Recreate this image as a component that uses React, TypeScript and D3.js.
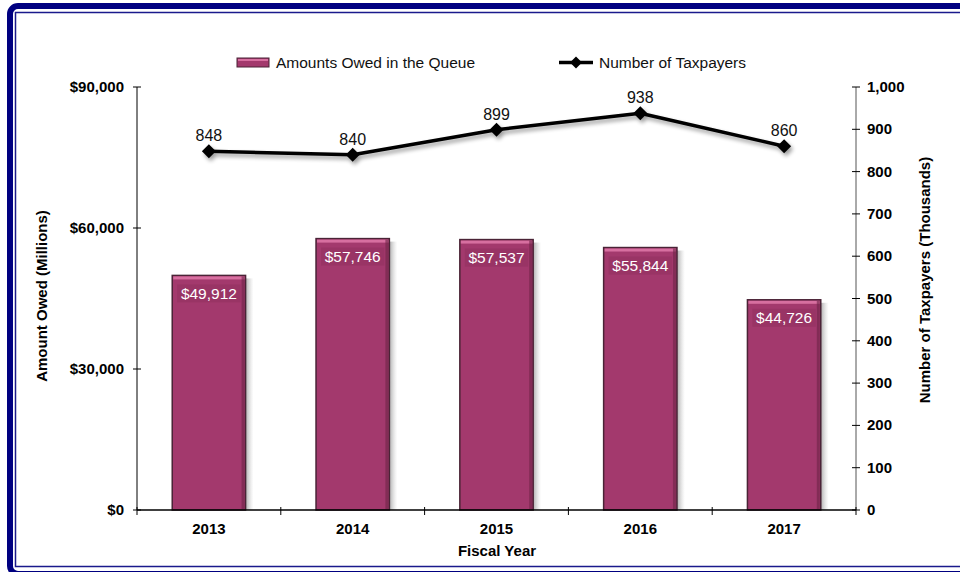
import React from "react";
import * as d3 from "d3";

const years = ["2013", "2014", "2015", "2016", "2017"];
const amounts = [49912, 57746, 57537, 55844, 44726];
const taxpayers = [848, 840, 899, 938, 860];
const leftTicks = [0, 30000, 60000, 90000];
const rightTicks = [0, 100, 200, 300, 400, 500, 600, 700, 800, 900, 1000];

const W = 960, H = 572;
const M = { left: 137, right: 856, top: 87, bottom: 510 };
const FONT = "'Liberation Sans', Arial, sans-serif";
const BAR = "#A3396D";

export default function App() {
  const x = d3.scaleBand<string>().domain(years).range([M.left, M.right]).paddingInner(0.49).paddingOuter(0.245);
  const yL = d3.scaleLinear().domain([0, 90000]).range([M.bottom, M.top]);
  const yR = d3.scaleLinear().domain([0, 1000]).range([M.bottom, M.top]);
  const step = (M.right - M.left) / years.length;
  const cx = (i: number) => M.left + step * (i + 0.5);
  const bw = x.bandwidth();
  const line = d3.line<number>().x((_, i) => cx(i)).y((d) => yR(d));
  const fmtL = (v: number) => "$" + d3.format(",")(v);
  const diamond = (px: number, py: number, r: number) => `M${px},${py - r}L${px + r},${py}L${px},${py + r}L${px - r},${py}Z`;

  return (
    <svg width={W} height={H} style={{ position: "absolute", left: 0, top: 0, fontFamily: FONT }}>
      <defs>
        <linearGradient id="shadowG" x1="0" x2="1" y1="0" y2="0">
          <stop offset="0" stopColor="#777" stopOpacity="0.6" />
          <stop offset="1" stopColor="#bbb" stopOpacity="0" />
        </linearGradient>
        <filter id="lineShadow" x="-10%" y="-50%" width="120%" height="200%">
          <feGaussianBlur in="SourceAlpha" stdDeviation="2" />
          <feOffset dx="2" dy="3" result="b" />
          <feComponentTransfer><feFuncA type="linear" slope="0.4" /></feComponentTransfer>
          <feMerge><feMergeNode /><feMergeNode in="SourceGraphic" /></feMerge>
        </filter>
      </defs>
      <rect x={0} y={0} width={W} height={H} fill="#fff" />
      {/* borders */}
      <rect x={10} y={6} width={W + 20} height={H - 4} rx={8} fill="none" stroke="#000080" strokeWidth={6} />
      <rect x={15.5} y={12.5} width={W} height={554} fill="none" stroke="#1a1a8c" strokeWidth={1.5} />

      {/* bars */}
      {amounts.map((v, i) => {
        const bx = cx(i) - bw / 2;
        const by = yL(v);
        const h = M.bottom - by;
        return (
          <g key={years[i]}>
            <rect x={bx + bw} y={by + 3} width={8} height={h - 3} fill="url(#shadowG)" />
            <rect x={bx} y={by} width={bw} height={h} fill={BAR} stroke="#4a2336" strokeWidth={1.5} />
            <rect x={bx + 1} y={by + 1} width={bw - 2} height={3} fill="#d76fa0" />
            <rect x={bx + bw - 4} y={by + 1} width={3} height={h - 1} fill="#6e2448" opacity={0.6} />
            <rect x={bx + 5} y={by + 9} width={bw - 10} height={18} fill="#8f2f5e" opacity={0.5} />
            <text x={cx(i)} y={by + 23.5} textAnchor="middle" fontSize={15.5} fill="#fff">{fmtL(v)}</text>
          </g>
        );
      })}

      {/* axes */}
      <g stroke="#000" strokeWidth={1}>
        <line x1={M.left} x2={M.left} y1={M.top} y2={M.bottom} />
        <line x1={M.right} x2={M.right} y1={M.top} y2={M.bottom} stroke="#555" />
        <line x1={M.left} x2={M.right} y1={M.bottom} y2={M.bottom} strokeWidth={1.5} />
        {leftTicks.map((t) => (
          <line key={t} x1={M.left - 4} x2={M.left + 4} y1={yL(t)} y2={yL(t)} />
        ))}
        {rightTicks.map((t) => (
          <line key={t} x1={M.right - 4} x2={M.right + 4} y1={yR(t)} y2={yR(t)} />
        ))}
        {d3.range(years.length + 1).map((i) => (
          <line key={i} x1={M.left + step * i} x2={M.left + step * i} y1={M.bottom - 3} y2={M.bottom + 5} />
        ))}
      </g>
      {leftTicks.map((t) => (
        <text key={t} x={M.left - 13} y={yL(t) + 5} textAnchor="end" fontSize={15} fontWeight="bold">{fmtL(t)}</text>
      ))}
      {rightTicks.map((t) => (
        <text key={t} x={M.right + 11} y={yR(t) + 5} textAnchor="start" fontSize={15} fontWeight="bold">{d3.format(",")(t)}</text>
      ))}
      {years.map((yv, i) => (
        <text key={yv} x={cx(i)} y={534} textAnchor="middle" fontSize={15} fontWeight="bold">{yv}</text>
      ))}
      <text x={497} y={556} textAnchor="middle" fontSize={15} fontWeight="bold">Fiscal Year</text>
      <text transform={`translate(47,${296}) rotate(-90)`} textAnchor="middle" fontSize={15} fontWeight="bold">Amount Owed (Millions)</text>
      <text transform={`translate(930,${280}) rotate(-90)`} textAnchor="middle" fontSize={15} fontWeight="bold">Number of Taxpayers (Thousands)</text>

      {/* line */}
      <g filter="url(#lineShadow)">
        <path d={line(taxpayers) || ""} fill="none" stroke="#000" strokeWidth={3.5} strokeLinejoin="round" />
        {taxpayers.map((v, i) => (
          <path key={i} d={diamond(cx(i), yR(v), 7)} fill="#000" />
        ))}
      </g>
      {taxpayers.map((v, i) => (
        <text key={i} x={cx(i)} y={yR(v) - 10} textAnchor="middle" fontSize={16} fill="#111">{v}</text>
      ))}

      {/* legend */}
      <rect x={237} y={58} width={32} height={9} fill={BAR} stroke="#4a2336" strokeWidth={1} />
      <rect x={238} y={59} width={30} height={2} fill="#d76fa0" />
      <text x={276} y={67.5} fontSize={15.5} fill="#111">Amounts Owed in the Queue</text>
      <line x1={559} x2={593} y1={62.5} y2={62.5} stroke="#000" strokeWidth={3.5} />
      <path d={diamond(576, 62.5, 6)} fill="#000" />
      <text x={599} y={67.5} fontSize={15.5} fill="#111">Number of Taxpayers</text>
    </svg>
  );
}
